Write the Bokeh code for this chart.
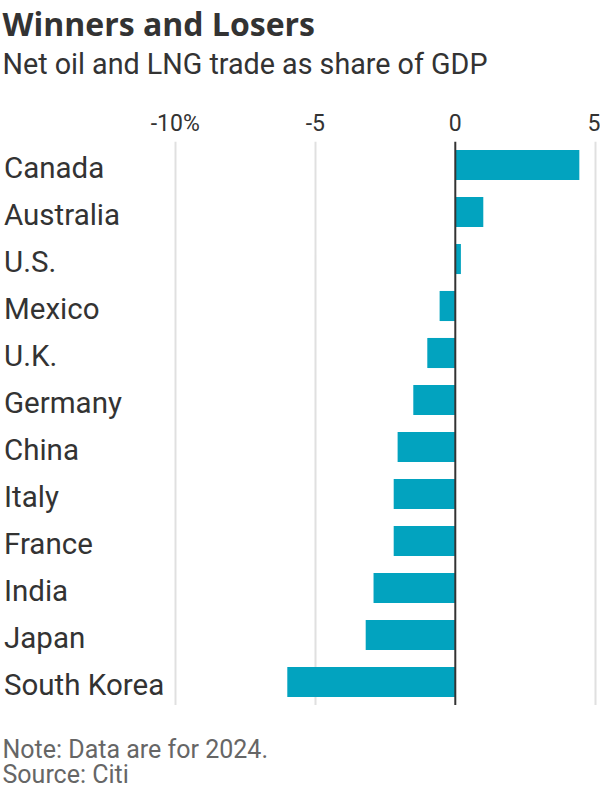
from bokeh.plotting import figure
from bokeh.layouts import column
from bokeh.models import (ColumnDataSource, FactorRange, Range1d, Span, Label,
                          FixedTicker)
from bokeh.core.properties import value
from bokeh.embed import file_html
from bokeh.resources import INLINE

# ---- data ----
countries = ["Canada", "Australia", "U.S.", "Mexico", "U.K.", "Germany",
             "China", "Italy", "France", "India", "Japan", "South Korea"]
net_trade = [4.43, 1.0, 0.2, -0.56, -1.0, -1.5, -2.06, -2.2, -2.2, -2.92, -3.2, -6.0]
tick_values = [-10, -5, 0, 5]
tick_labels = ["-10%", "-5", "0", "5"]
grid_values = [-10, -5, 5]

title_text = "Winners and Losers"
subtitle_text = "Net oil and LNG trade as share of GDP"
note_text = "Note: Data are for 2024."
source_text = "Source: Citi"

FONT = "Roboto"
DARK = "#333333"
GREY = "#666666"
BAR = "#02a3bf"

W = 600
HEAD_H, MAIN_H, FOOT_H = 100, 605, 95
X0, X1 = -16.243, 5.186
label_x = X0 + 3.5 / 28
n = len(countries)


def text_panel(height):
    f = figure(width=W, height=height, output_backend="svg",
               toolbar_location=None, x_range=Range1d(0, W),
               y_range=Range1d(0, height), x_axis_location=None,
               y_axis_location=None, min_border=0)
    f.outline_line_color = None
    f.xgrid.visible = False
    f.ygrid.visible = False
    f.border_fill_color = "white"
    return f


def add_label(fig, text, y, size, color, style="normal", font=FONT):
    fig.add_layout(Label(x=2, y=y, text=text, text_font=font,
                         text_font_size=size, text_color=color,
                         text_font_style=style, text_align="left",
                         text_baseline="alphabetic"))


# ---- header ----
head = text_panel(HEAD_H)
add_label(head, title_text, 77.5, "32px", DARK, "bold", "Open Sans")
add_label(head, subtitle_text, 37, "28.7px", DARK)

# ---- main chart ----
src = ColumnDataSource(dict(country=countries, val=net_trade,
                            lx=[label_x] * n))

p = figure(width=W, height=MAIN_H, output_backend="svg", toolbar_location=None,
           y_range=FactorRange(factors=list(reversed(countries)), range_padding=0),
           x_range=Range1d(X0, X1),
           x_axis_location="above", y_axis_location=None,
           min_border_left=0, min_border_right=0,
           min_border_top=41, min_border_bottom=0)
p.outline_line_color = None
p.background_fill_color = "white"
p.border_fill_color = "white"

ax = p.xaxis[0]
ax.ticker = FixedTicker(ticks=tick_values)
ax.major_label_overrides = {v: t for v, t in zip(tick_values, tick_labels)}
ax.axis_line_color = None
ax.major_tick_line_color = None
ax.minor_tick_line_color = None
ax.major_tick_out = 0
ax.major_tick_in = 0
ax.major_label_standoff = 5
ax.major_label_text_font = FONT
ax.major_label_text_font_size = "23px"
ax.major_label_text_color = DARK

p.xgrid.ticker = FixedTicker(ticks=grid_values)
p.xgrid.grid_line_color = "#e0e0e0"
p.xgrid.grid_line_width = 2
p.ygrid.grid_line_color = None

p.hbar(y="country", left=0, right="val", height=0.64, source=src,
       fill_color=BAR, line_color=None)

p.add_layout(Span(location=0, dimension="height", line_color="#333333",
                  line_width=2))

p.text(x="lx", y="country", text="country", source=src,
       text_font=value(FONT), text_font_size="29.5px", text_color=DARK,
       text_align="left", text_baseline="alphabetic", y_offset=3)

# ---- footer ----
foot = text_panel(FOOT_H)
add_label(foot, note_text, 51.5, "25px", GREY)
add_label(foot, source_text, 26, "25px", GREY)

layout = column(head, p, foot, spacing=0)
open("out.html", "w").write(file_html(layout, INLINE))
